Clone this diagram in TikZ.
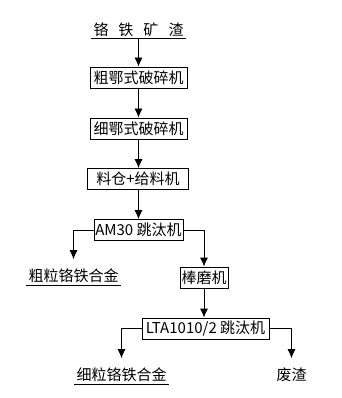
\documentclass[tikz,border=0pt]{standalone}
\usepackage{fontspec}
\setmainfont{Noto Sans CJK SC}
\usetikzlibrary{arrows.meta}

\begin{document}
\begin{tikzpicture}[x=1pt, y=-1pt, line width=0.8pt,
    every node/.style={font=\fontsize{15pt}{18pt}\selectfont},
    box/.style={draw, rectangle, minimum height=21pt, inner sep=0pt},
    prod/.style={inner xsep=2pt, inner ysep=0pt, text height=22pt, text depth=3pt, anchor=south},
    arr/.style={-{Latex[length=9pt,width=8pt]}}]
      \useasboundingbox (0,0) rectangle (341,398);
      \node[prod] (slag) at (138.5,38.5) {铬\hspace{10pt}铁\hspace{10pt}矿\hspace{10pt}渣};
      \node[box, minimum width=97pt] (crush1) at (138.5,77.5) {粗鄂式破碎机};
      \node[box, minimum width=97pt] (crush2) at (138.5,128.5) {细鄂式破碎机};
      \node[box, minimum width=101pt] (feeder) at (138,179) {料仓+给料机};
      \node[box, minimum width=89pt] (jig1) at (138.5,230) {AM30 跳汰机};
      \node[prod] (coarse) at (73.5,285) {粗粒铬铁合金};
      \node[box, minimum width=48pt] (rodmill) at (204,277.5) {棒磨机};
      \node[box, minimum width=127pt] (jig2) at (205.5,328.5) {LTA1010/2 跳汰机};
      \node[prod] (fine) at (121.5,384) {细粒铬铁合金};
      \node[prod] (waste) at (291.5,384) {废渣};
      \draw (slag.south west) -- (slag.south east);
      \draw (coarse.south west) -- (coarse.south east);
      \draw (fine.south west) -- (fine.south east);
      \draw[arr] (slag.south) -- (crush1.north);
      \draw[arr] (crush1.south) -- (crush2.north);
      \draw[arr] (crush2.south) -- (crush2.south |- feeder.north);
      \draw[arr] (crush2.south |- feeder.south) -- (crush2.south |- jig1.north);
      \draw[arr] (jig1.west) -| (coarse.north);
      \draw[arr] (jig1.east) -| (rodmill.north);
      \draw[arr] (rodmill.south) -- (rodmill.south |- jig2.north);
      \draw[arr] (jig2.west) -| (fine.north);
      \draw[arr] (jig2.east) -| (waste.north);
    \end{tikzpicture}
\end{document}
